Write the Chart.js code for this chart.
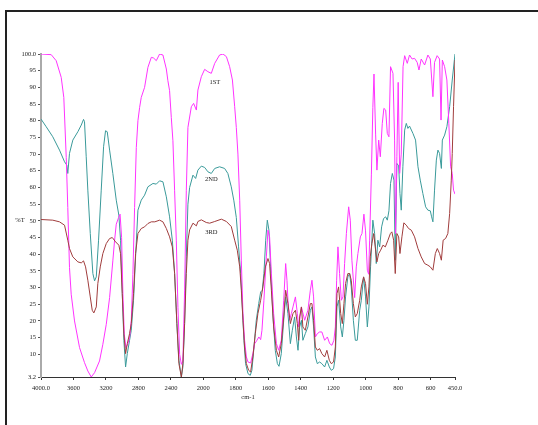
<!DOCTYPE html>
<html>
<head>
<meta charset="utf-8">
<script src="https://cdn.jsdelivr.net/npm/chart.js@4.4.0/dist/chart.umd.min.js"></script>
<style>
  body { margin: 0; background: #fff; }
  #wrap { position: relative; width: 538px; height: 425px; overflow: hidden; }
  #frame { position: absolute; left: 5px; top: 10px; width: 600px; height: 500px;
           border-top: 2px solid #222; border-left: 2px solid #222; }
  #irChart { position: absolute; left: 0; top: 0; }
</style>
</head>
<body>
<div id="wrap">
  <div id="frame"></div>
  <canvas id="irChart" width="538" height="425"></canvas>
</div>
<script>
// wavenumbers (cm-1) and %T, one pair of arrays per run
const firstWn = [
  4000,3874,3813,3751,3719,3689,3670,3649,3628,3587,
  3525,3464,3423,3381,3340,3279,3238,3196,3155,3115,
  3094,3073,3044,3026,3007,2991,2974,2954,2933,2909,
  2888,2868,2847,2826,2806,2785,2765,2724,2683,2641,
  2613,2580,2539,2498,2456,2437,2416,2395,2375,2354,
  2333,2313,2292,2271,2252,2231,2210,2190,2148,2120,
  2086,2067,2025,1992,1972,1951,1930,1900,1879,1858,
  1838,1821,1807,1797,1787,1776,1766,1756,1746,1735,
  1725,1709,1695,1684,1670,1658,1647,1639,1627,1612,
  1602,1592,1581,1567,1550,1536,1520,1505,1493,1485,
  1479,1469,1458,1448,1433,1421,1413,1396,1376,1356,
  1341,1331,1321,1310,1298,1284,1270,1253,1236,1222,
  1208,1196,1187,1179,1171,1161,1150,1140,1130,1119,
  1105,1095,1085,1068,1058,1048,1033,1023,1011,1001,
  990,982,976,965,956,949,939,931,920,910,
  898,888,877,867,857,847,832,822,816,808,
  800,791,781,770,760,744,730,714,699,683,
  672,658,637,617,602,586,576,560,545,536,
  528,514,500,488,477,467,459,450
];
const firstT = [
  100,99.8,98,93,87,69,54,36,28,20,
  12,7.5,5,3.2,4.5,8,13,19,27,38,
  44,49,51,52,45,28,16,12,13,15,
  20,34,54,72,80,84,87,90,96,99,
  98.8,98,100,99.7,95.5,92,89,81,74,59,
  44,24,10,7,8,29,59,78,84.2,85.2,
  83.2,89.2,93.2,95.4,94.7,94.2,97.2,99.7,100,99.2,
  96.2,92.2,84.2,78,70,56,38,22.2,14.2,9.2,
  7.7,7.4,10.2,13.2,14.2,15.2,14.4,17.2,26.2,39.2,
  47.2,45.2,34.2,22.2,13.2,11.2,14.2,26.2,37.2,32.2,
  26.2,20.2,22.2,24.2,27.2,22.2,18.2,24.2,20.2,23.2,
  29.2,32.2,27.2,15.2,16.2,16.7,16.7,14.2,15.2,13.2,
  12.7,14.2,18.2,32.2,42.2,34.2,26.2,27.2,37.2,46.2,
  54.2,50.2,38.2,27,36.2,40.2,45.2,46.2,52,47,
  35.2,34,44,64,84,94,76,65.2,74.2,69.2,
  79.2,83.7,83.2,76.2,75.2,96.2,94.2,74.2,46.2,69.2,
  91.5,64.2,70,96.2,99.5,97.2,99.7,98.5,98.7,97.5,
  95.2,98.5,96.7,99.7,98.5,87.2,97.5,99.5,98.5,80.2,
  98.2,96.2,92.2,79.2,66.2,64.2,59.2,58
];

const secondWn = [
  4000,3936,3855,3772,3710,3682,3670,3649,3608,3546,
  3504,3476,3464,3443,3423,3393,3361,3340,3319,3291,
  3258,3229,3205,3184,3155,3115,3073,3041,3020,2999,
  2979,2958,2937,2909,2888,2860,2835,2806,2765,2724,
  2683,2621,2580,2539,2498,2456,2416,2382,2354,2326,
  2301,2271,2252,2231,2210,2190,2169,2128,2095,2067,
  2025,1992,1972,1951,1930,1900,1869,1849,1828,1812,
  1797,1783,1770,1760,1750,1740,1725,1711,1701,1688,
  1674,1659,1647,1637,1627,1616,1606,1596,1586,1571,
  1557,1544,1534,1520,1505,1493,1479,1464,1452,1438,
  1427,1417,1407,1396,1387,1372,1356,1341,1331,1321,
  1310,1298,1284,1270,1253,1239,1224,1212,1198,1187,
  1177,1167,1154,1144,1134,1124,1110,1099,1089,1076,
  1064,1052,1037,1027,1013,1001,990,980,970,956,
  945,935,925,914,902,890,877,867,857,847,
  836,826,818,808,797,789,781,771,760,750,
  740,730,709,693,678,664,648,631,617,602,
  594,586,576,565,555,545,534,528,514,500,
  483,467,450
];
const secondT = [
  80.5,78.2,75.2,71.2,67.7,66.7,64.2,70.2,74.2,76.7,
  78.7,80.4,79.7,69.2,59.2,46.2,34.2,32,33.2,44.2,
  59.2,72.2,77,76.7,71.2,64.2,56.2,51.7,44.2,28.2,
  14.2,6.2,10.2,14.2,17.2,26.2,39.2,53.2,56.2,57.7,
  60.2,61.2,61,62,61.7,57.2,51.2,44.2,34.2,19.2,
  8.2,3.2,6.2,19.2,39.2,55,60,63.7,62.7,65.2,
  66.4,66,64.7,64.2,65.7,66.2,65.7,64.2,60.2,56,
  51,42.2,34.2,24.2,14.2,7.2,4.2,3.7,5.2,12.2,
  20.2,25.2,28.7,29.2,34.2,44.2,50.2,47.2,36.2,21.2,
  11.2,7.2,6.4,10.2,20.2,27.2,22.2,13.2,17.2,21.2,
  15.2,11.2,18.2,20.2,14.2,16.2,18.2,23.2,24.2,18.2,
  9.2,7.2,7.7,7.2,6.2,8.2,6.2,5.2,5.7,9.2,
  24.2,26.2,18.2,15.2,20.2,27.2,33.2,34.2,30.2,20.2,
  14.2,14.2,23.2,26.2,33.2,27.2,18.2,24.2,36.2,50.2,
  46.2,37.2,44.2,42.2,48.2,50.7,51.2,50.2,53,61.2,
  64.2,62.2,38.2,67.2,66.5,58.2,53.2,66.2,77.2,79.2,
  77.7,78.4,76.2,74.2,66.2,62.2,58.2,54.2,53.2,53,
  51.2,49.7,59.2,68.2,71.2,70.2,65.7,74.2,75.7,78.2,
  84.2,92.2,100
];

const thirdWn = [
  4000,3855,3772,3710,3670,3649,3608,3546,3504,3476,
  3451,3423,3393,3369,3349,3319,3300,3270,3238,3196,
  3155,3122,3081,3041,3020,2999,2979,2958,2937,2909,
  2888,2860,2835,2806,2765,2724,2683,2641,2598,2539,
  2498,2456,2416,2382,2354,2326,2301,2271,2252,2231,
  2210,2190,2169,2128,2086,2067,2025,1982,1961,1930,
  1889,1858,1828,1807,1791,1776,1766,1756,1746,1735,
  1721,1709,1695,1680,1664,1647,1633,1618,1602,1592,
  1581,1567,1550,1536,1520,1505,1493,1479,1464,1448,
  1433,1421,1413,1407,1396,1387,1372,1356,1341,1331,
  1321,1310,1298,1284,1270,1253,1239,1224,1212,1198,
  1187,1177,1167,1154,1144,1134,1124,1110,1099,1089,
  1076,1064,1052,1037,1027,1013,1001,990,980,972,
  962,951,941,931,920,908,894,879,863,848,
  839,828,818,808,797,789,777,765,750,736,
  719,699,678,658,637,617,602,586,571,559,
  545,534,523,508,494,483,473,467,459,450
];
const thirdT = [
  50.4,50.2,49.7,48.7,44.2,41.7,39.2,37.7,37.4,38,
  36.2,32.2,27.2,23.2,22.4,24.2,31.2,36.2,40.2,43.2,
  44.7,45,43.7,42.7,40.2,28.2,16.2,10.2,13.2,16.2,
  19.2,28.2,40.2,46.2,47.7,48.2,49.2,49.7,49.7,50.2,
  49.7,47.7,45.2,42.2,34.2,19.2,7.2,3.2,7.2,19.2,
  34.2,44.2,47.3,49.3,48.5,49.8,50.3,49.5,49.3,49.8,
  50.5,49.8,48.3,44.2,41.2,36.2,29.2,20.2,12.2,7.2,
  5.2,4.7,9.2,16.2,22.2,26.2,30.2,36.2,38.7,37.2,
  29.2,18.2,11.2,9.2,13.2,21.2,29.2,25.2,19.2,22.2,
  23.2,19.2,14.2,21.2,24.2,18.2,17.2,21.2,25.2,25.2,
  20.2,12.2,11.2,11.7,10.2,9.2,11.2,8.2,7.2,7.7,
  12.2,28.2,30.2,22.2,19.2,25.2,31.2,34.2,34.2,32.2,
  25.2,21.2,22.2,26.2,30.2,33.2,31.2,25,30.2,39.2,
  43.2,46.2,42.2,37.7,40.2,41.2,42.7,42.2,44.2,46.2,
  46.7,44.2,34.2,46.2,45.2,40.2,45.2,49.4,48.7,47.7,
  47.2,45.2,41.7,39.2,37.2,36.7,36.2,35.2,40.2,41.7,
  40.2,38.2,44.2,44.7,46.2,52.2,62.2,70.2,84.2,98.2
];

const xTicks = [4000, 3600, 3200, 2800, 2400, 2000, 1800, 1600, 1400, 1200, 1000, 800, 600, 450];
const xTickLabels = ["4000.0", "3600", "3200", "2800", "2400", "2000", "1800", "1600", "1400", "1200", "1000", "800", "600", "450.0"];
const yTicks = [3.2, 10, 15, 20, 25, 30, 35, 40, 45, 50, 55, 60, 65, 70, 75, 80, 85, 90, 95, 100];
const yTickLabels = ["3.2", "10", "15", "20", "25", "30", "35", "40", "45", "50", "55", "60", "65", "70", "75", "80", "85", "90", "95", "100.0"];

const curveLabels = ["1ST", "2ND", "3RD"];
const curveLabelWn = [1929, 1951, 1951];
const curveLabelT = [91.6, 62.3, 46.7];

// the spectrometer plot halves its scale above 2000 cm-1
const toAxis = (wn) => (wn >= 2000 ? (4000 - wn) / 2 : 1000 + (2000 - wn));
const toPoints = (wns, ts) => wns.map((w, i) => ({ x: toAxis(w), y: ts[i] }));

const serif = "'Liberation Serif', 'Times New Roman', serif";
const tickFont = { family: serif, size: 6.5 };

const textPlugin = {
  id: "irText",
  afterDraw(chart) {
    const { ctx, scales, chartArea } = chart;
    ctx.save();
    ctx.fillStyle = "#222";
    ctx.font = "6.5px " + serif;
    ctx.textAlign = "center";
    ctx.textBaseline = "middle";
    ctx.fillText("%T", 20, scales.y.getPixelForValue(50) - 1);
    ctx.fillText("cm-1", (chartArea.left + chartArea.right) / 2, 397);
    curveLabels.forEach((t, i) => {
      ctx.fillText(t, scales.x.getPixelForValue(toAxis(curveLabelWn[i])), scales.y.getPixelForValue(curveLabelT[i]));
    });
    ctx.restore();
  },
};

new Chart(document.getElementById("irChart"), {
  type: "line",
  data: {
    datasets: [
      { label: "3RD", data: toPoints(thirdWn, thirdT), borderColor: "#a03c3c" },
      { label: "1ST", data: toPoints(firstWn, firstT), borderColor: "#ff33ff" },
      { label: "2ND", data: toPoints(secondWn, secondT), borderColor: "#3a9a9a" },
    ],
  },
  options: {
    responsive: false,
    animation: false,
    layout: { padding: { left: 0, top: 54, right: 83, bottom: 0 } },
    elements: { point: { radius: 0 }, line: { borderWidth: 1, tension: 0 } },
    plugins: { legend: { display: false }, tooltip: { enabled: false } },
    scales: {
      x: {
        type: "linear",
        min: 0,
        max: 2550,
        afterFit: (s) => { s.height = 48; },
        afterBuildTicks: (s) => { s.ticks = xTicks.map((w) => ({ value: toAxis(w) })); },
        ticks: { autoSkip: false, maxRotation: 0, padding: 4, color: "#222", font: tickFont,
                 callback: (v, i) => xTickLabels[i] },
        grid: { drawOnChartArea: false, tickLength: 3, tickColor: "#333" },
        border: { color: "#333", width: 1 },
      },
      y: {
        min: 3.2,
        max: 100,
        afterFit: (s) => { s.width = 41; },
        afterBuildTicks: (s) => { s.ticks = yTicks.map((v) => ({ value: v })); },
        ticks: { autoSkip: false, padding: 2, color: "#222", font: tickFont,
                 callback: (v, i) => yTickLabels[i] },
        grid: { drawOnChartArea: false, tickLength: 3, tickColor: "#555" },
        border: { color: "#aaa", width: 2 },
      },
    },
  },
  plugins: [textPlugin],
});
</script>
</body>
</html>
